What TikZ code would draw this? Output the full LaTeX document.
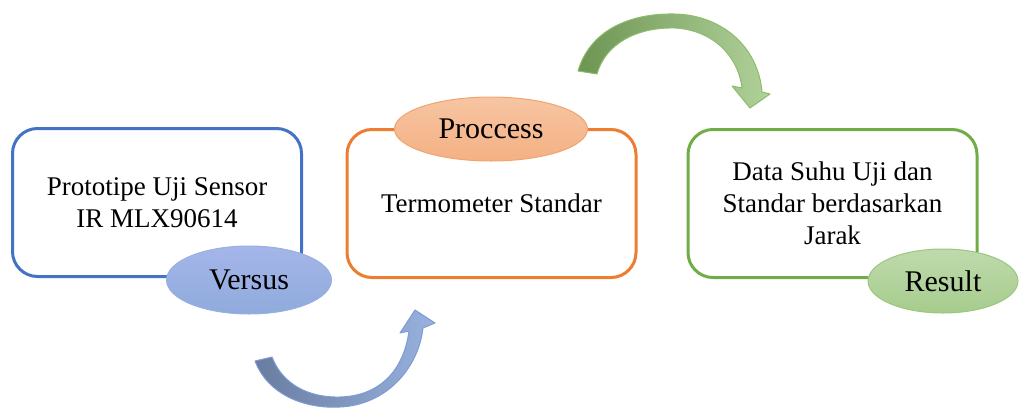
\documentclass[tikz,border=0pt]{standalone}
\usepackage{fontspec}
\setmainfont{Liberation Serif}
\usetikzlibrary{shapes.geometric}

\definecolor{boxblue}{HTML}{4472C4}
\definecolor{boxorange}{HTML}{ED7D31}
\definecolor{boxgreen}{HTML}{70AD47}

\tikzset{
  card/.style={draw, line width=1.5pt, rounded corners=12.5pt, fill=white,
    minimum width=144.5pt, minimum height=74pt, align=center,
    font=\fontsize{13.5}{16}\selectfont},
  tag/.style={ellipse, inner sep=0pt, line width=0.5pt,
    font=\fontsize{15}{18}\selectfont},
  curvedarrow/.style={line width=0.5pt, line join=round}
}

\begin{document}
\begin{tikzpicture}[x=0.5pt,y=-0.5pt]
\useasboundingbox (0,0) rectangle (1019,408);

% three stage cards
\node[card, draw=boxblue] (proto) at (157,202.5)
  {Prototipe Uji Sensor\\IR MLX90614};
\node[card, draw=boxorange] (termo) at (491.5,203.5)
  {Termometer Standar};
\node[card, draw=boxgreen] (data) at (832.5,203.5)
  {Data Suhu Uji dan\\Standar berdasarkan\\Jarak};

% labels on the cards
\node[tag, draw=boxblue!55, top color=blue!20!boxblue!45, bottom color=boxblue!60,
      minimum width=82.5pt, minimum height=34pt] (versus) at (249,280) {Versus};
\node[tag, draw=boxorange!70, top color=boxorange!45, bottom color=boxorange!60,
      minimum width=96.5pt, minimum height=32pt] (process) at (491,129) {Proccess};
\node[tag, draw=boxgreen!70, top color=boxgreen!45, bottom color=boxgreen!62,
      minimum width=75pt, minimum height=32pt] (result) at (943,281) {Result};

% curved arrow from the first card up to the second
\draw[curvedarrow, draw=boxblue!70, left color=black!40!boxblue!70, right color=boxblue!55]
  (255,361) .. controls (268,395) and (305,409) .. (340,407)
  .. controls (385,405) and (418,370) .. (423,328)
  -- (435,323) -- (415,310) -- (400,333) -- (409,331)
  .. controls (403,375) and (375,398) .. (335,397)
  .. controls (300,396) and (280,378) .. (272,357) -- cycle;

% curved arrow from the second card over to the result
\draw[curvedarrow, draw=boxgreen!80, left color=black!25!boxgreen!85, right color=boxgreen!55]
  (578,71) .. controls (590,30) and (630,13) .. (675,14)
  .. controls (720,15) and (758,45) .. (762,92)
  -- (770,94) -- (750,108) -- (732,86) -- (742,88)
  .. controls (738,55) and (712,30) .. (675,28)
  .. controls (635,27) and (605,45) .. (597,74) -- cycle;
\end{tikzpicture}
\end{document}
